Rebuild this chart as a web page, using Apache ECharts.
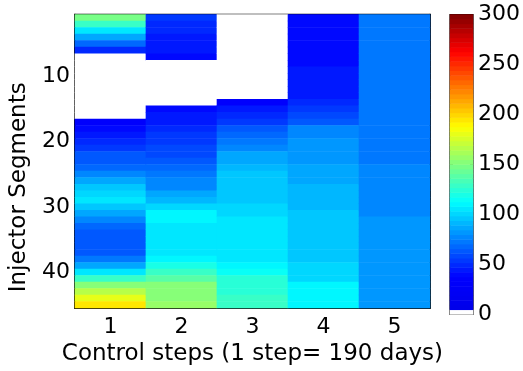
<!DOCTYPE html>
<html><head><meta charset="utf-8">
<script src="https://cdn.jsdelivr.net/npm/echarts@6/dist/echarts.min.js"></script>
<style>html,body{margin:0;padding:0;background:#fff}#c{width:523px;height:371px}</style>
</head><body><div id="c"></div><script>
// ---- data ----
const steps = ['1', '2', '3', '4', '5'];
const segments = ['1','2','3','4','5','6','7','8','9','10','11','12','13','14','15','16','17','18','19','20','21','22','23','24','25','26','27','28','29','30','31','32','33','34','35','36','37','38','39','40','41','42','43','44','45'];
const segmentTicks = [10, 20, 30, 40];
const colorTicks = [0, 50, 100, 150, 200, 250, 300];
const step1 = [148,130,105,86,67,51, 0,0,0,0,0,0,0,0,0,0, 37,42,45,49,52,61,64, 67,79,85,96,99,105,97,88,76,67,62, 61,61,61, 73,87,105,130,151,165,180,195];
const step2 = [52,51,48,46,45,43,38, 0,0,0,0,0,0,0, 40,43,46,51,54,55,57,58,61, 70,73,76,79,88,93,102,110,110,105,105, 105,105,105, 110,121,130,139,150,150,153,157];
const step3 = [0,0,0,0,0,0,0,0,0,0,0,0,0, 37,44,49,56,61,67,73,79,88,89, 92, 97,97,97,97,97, 100,100, 104,104,104, 105,105,105, 106,109,113,123,126,126,130,130];
const step4 = [40,40,40,40,40,40,40,40, 43,43,43,43,43, 48,54,59,64, 75,75, 80,80, 83,83, 86, 89,89, 90,90,90, 93, 97,97,97,97,97,97,97,97, 99,99, 103, 110,110,110,110];
const step5 = [71,71,71,71,71,71,71,71,71,71,71,71,71,71,71,71,71, 73,73,73,73,73,73, 77,77,77,77,77,77,77,77, 80,80,80,80,80,80,80,80,80,80,80,80,80,80];
const stepValues = [step1, step2, step3, step4, step5];
const cMin = 0, cMax = 300, nLevels = 64;

// ---- colormap (jet-like, first level white) ----
const stops = [[0,[0,0,0.9]],[0.125,[0,0,1]],[0.375,[0,1,1]],[0.625,[1,1,0]],[0.875,[1,0,0]],[1,[0.5,0,0]]];
function jet(t){
  for (let k = 1; k < stops.length; k++) {
    if (t <= stops[k][0]) {
      const [t0,c0] = stops[k-1], [t1,c1] = stops[k];
      const f = (t - t0) / (t1 - t0);
      const c = c0.map((v,i)=>Math.round(255*(v + f*(c1[i]-v))));
      return 'rgb(' + c.join(',') + ')';
    }
  }
  return 'rgb(128,0,0)';
}
const step = (cMax - cMin) / nLevels;
const pieces = [];
for (let i = 0; i < nLevels; i++) {
  const p = { gte: cMin + i*step, color: i === 0 ? '#ffffff' : jet((i + 0.5)/nLevels) };
  if (i === nLevels - 1) p.lte = cMax; else p.lt = cMin + (i+1)*step;
  pieces.push(p);
}

const heat = [];
stepValues.forEach((col, xi) => col.forEach((v, yi) => heat.push([xi, yi, v])));
const levelCats = [];
const barData = [];
for (let i = 0; i < nLevels; i++) { levelCats.push(String(i)); barData.push([0, i, cMin + (i + 0.5)*step]); }

const font = 'DejaVu Sans';
const tickFn = (idx, val) => segmentTicks.indexOf(+val) >= 0;
const axLine = { show: true, lineStyle: { color: '#000', width: 1.5 } };

const chart = echarts.init(document.getElementById('c'), null, { renderer: 'canvas' });
chart.setOption({
  animation: false,
  backgroundColor: '#fff',
  grid: [
    { left: 74, top: 14.5, width: 356, height: 300, show: true, borderColor: '#000', borderWidth: 1.5, backgroundColor: 'transparent', containLabel: false },
    { left: 450, top: 14.5, width: 26, height: 300, show: true, borderColor: '#000', borderWidth: 1.2, backgroundColor: 'transparent', containLabel: false }
  ],
  visualMap: { type: 'piecewise', show: false, dimension: 2, seriesIndex: [0, 1], pieces: pieces },
  xAxis: [
    { type: 'category', gridIndex: 0, data: steps, position: 'bottom',
      axisLine: axLine, axisTick: { show: true, inside: true, alignWithLabel: true, length: 5, lineStyle: { color: '#000' } },
      axisLabel: { fontFamily: font, fontSize: 22, color: '#000', margin: 8 },
      splitLine: { show: false },
      name: 'Control steps (1 step= 190 days)', nameLocation: 'middle', nameGap: 30,
      nameTextStyle: { fontFamily: font, fontSize: 23, color: '#000' } },
    { type: 'category', gridIndex: 0, data: steps, position: 'top',
      axisLine: axLine, axisTick: { show: true, inside: true, alignWithLabel: true, length: 5, lineStyle: { color: '#000' } },
      axisLabel: { show: false }, splitLine: { show: false } },
    { type: 'category', gridIndex: 1, data: ['c'], show: false }
  ],
  yAxis: [
    { type: 'category', gridIndex: 0, data: segments, inverse: true, position: 'left',
      axisLine: axLine,
      axisTick: { show: true, inside: true, alignWithLabel: true, length: 5, interval: tickFn, lineStyle: { color: '#000' } },
      axisLabel: { fontFamily: font, fontSize: 22, color: '#000', margin: 5, interval: tickFn },
      splitLine: { show: false },
      name: 'Injector Segments', nameLocation: 'middle', nameGap: 40,
      nameTextStyle: { fontFamily: font, fontSize: 23, color: '#000', padding: [0, 52, 0, 0] } },
    { type: 'category', gridIndex: 0, data: segments, inverse: true, position: 'right',
      axisLine: axLine,
      axisTick: { show: true, inside: true, alignWithLabel: true, length: 5, interval: tickFn, lineStyle: { color: '#000' } },
      axisLabel: { show: false }, splitLine: { show: false } },
    { type: 'category', gridIndex: 1, data: levelCats, show: false },
    { type: 'value', gridIndex: 1, min: cMin, max: cMax, interval: 50, position: 'right',
      axisLine: { show: false }, axisTick: { show: true, inside: true, length: 3, lineStyle: { color: '#000' } },
      axisLabel: { fontFamily: font, fontSize: 22, color: '#000', margin: 5,
        formatter: v => colorTicks.indexOf(v) >= 0 ? String(v) : '' },
      splitLine: { show: false } },
    { type: 'value', gridIndex: 1, min: cMin, max: cMax, interval: 50, position: 'left',
      axisLine: { show: false }, axisTick: { show: true, inside: true, length: 3, lineStyle: { color: '#000' } },
      axisLabel: { show: false }, splitLine: { show: false } }
  ],
  series: [
    { type: 'heatmap', xAxisIndex: 0, yAxisIndex: 0, data: heat, itemStyle: { borderWidth: 0 }, emphasis: { disabled: true } },
    { type: 'heatmap', xAxisIndex: 2, yAxisIndex: 2, data: barData, itemStyle: { borderWidth: 0 }, emphasis: { disabled: true } }
  ]
});
</script></body></html>
